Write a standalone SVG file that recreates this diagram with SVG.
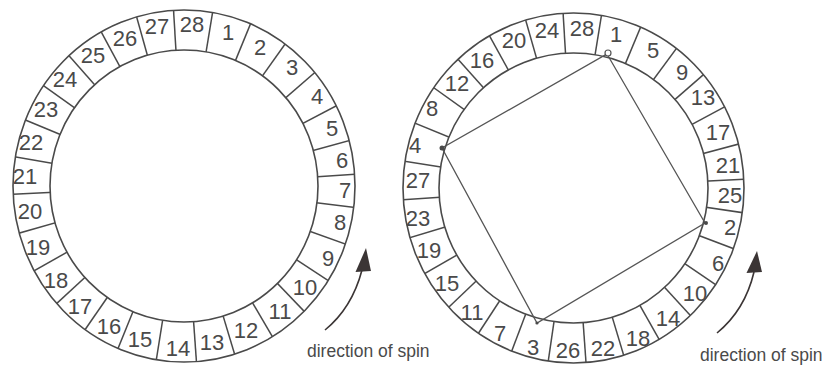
<svg xmlns="http://www.w3.org/2000/svg" width="833" height="365" viewBox="0 0 833 365">
<style>
.ring{fill:none;stroke:#4a4a4a;stroke-width:1.6}
.sp{stroke:#4a4a4a;stroke-width:1.5}
.num{font-family:"Liberation Sans",Arial,sans-serif;font-size:22px;fill:#4a4a4a;text-anchor:middle}
.cap{font-family:"Liberation Sans",Arial,sans-serif;font-size:17.5px;fill:#4a4a4a}
.sq{fill:none;stroke:#555;stroke-width:1.3}
.arr{fill:none;stroke:#3b3535;stroke-width:1.6}
.head{fill:#3b3535}
</style>
<defs>
<clipPath id="clipL"><path clip-rule="evenodd" d="M13,186a171,176 0 1,0 342,0a171,176 0 1,0 -342,0ZM50,186a134,136 0 1,0 268,0a134,136 0 1,0 -268,0Z"/></clipPath>
<clipPath id="clipR"><path clip-rule="evenodd" d="M403,188a170.5,175 0 1,0 341,0a170.5,175 0 1,0 -341,0ZM439,188a134.5,135 0 1,0 269,0a134.5,135 0 1,0 -269,0Z"/></clipPath>
<line id="spoke" x1="0" y1="-115" x2="0" y2="-190"/>
</defs>
<rect width="833" height="365" fill="#fff"/>

<g id="ring-left">
<ellipse class="ring" cx="184" cy="186" rx="171" ry="176"/>
<ellipse class="ring" cx="184" cy="186" rx="134" ry="136"/>
<g clip-path="url(#clipL)"><g class="sp" transform="translate(184,186)">
<use href="#spoke" transform="rotate(9.35)"/><use href="#spoke" transform="rotate(22.3)"/><use href="#spoke" transform="rotate(35.45)"/><use href="#spoke" transform="rotate(49.05)"/>
<use href="#spoke" transform="rotate(62.25)"/><use href="#spoke" transform="rotate(74.65)"/><use href="#spoke" transform="rotate(86.05)"/><use href="#spoke" transform="rotate(97.2)"/>
<use href="#spoke" transform="rotate(109.8)"/><use href="#spoke" transform="rotate(123.25)"/><use href="#spoke" transform="rotate(136.2)"/><use href="#spoke" transform="rotate(149.6)"/>
<use href="#spoke" transform="rotate(163.25)"/><use href="#spoke" transform="rotate(175.95)"/><use href="#spoke" transform="rotate(189.05)"/><use href="#spoke" transform="rotate(202.1)"/>
<use href="#spoke" transform="rotate(214.55)"/><use href="#spoke" transform="rotate(227.3)"/><use href="#spoke" transform="rotate(240.5)"/><use href="#spoke" transform="rotate(254.05)"/>
<use href="#spoke" transform="rotate(267.2)"/><use href="#spoke" transform="rotate(279.8)"/><use href="#spoke" transform="rotate(292.6)"/><use href="#spoke" transform="rotate(305.55)"/>
<use href="#spoke" transform="rotate(318.55)"/><use href="#spoke" transform="rotate(331.75)"/><use href="#spoke" transform="rotate(344.35)"/><use href="#spoke" transform="rotate(356.6)"/>
</g></g>
<g class="num">
<text x="228" y="40">1</text><text x="260" y="55">2</text><text x="292" y="75">3</text><text x="317" y="104">4</text>
<text x="332" y="136">5</text><text x="342" y="168">6</text><text x="345" y="198">7</text><text x="340" y="230">8</text>
<text x="328" y="266">9</text><text x="305" y="295">10</text><text x="280" y="319">11</text><text x="246" y="338">12</text>
<text x="212" y="350">13</text><text x="178" y="356">14</text><text x="140" y="347">15</text><text x="109" y="334">16</text>
<text x="80" y="314">17</text><text x="56" y="288">18</text><text x="38" y="255">19</text><text x="30" y="219">20</text>
<text x="25" y="184">21</text><text x="31" y="150">22</text><text x="46" y="117">23</text><text x="65" y="87">24</text>
<text x="93" y="63">25</text><text x="125" y="46">26</text><text x="157" y="34">27</text><text x="192" y="32">28</text>
</g>
</g>

<g id="ring-right">
<ellipse class="ring" cx="573.5" cy="188" rx="170.5" ry="175"/>
<ellipse class="ring" cx="573.5" cy="188" rx="134.5" ry="135"/>
<g clip-path="url(#clipR)"><g class="sp" transform="translate(573.5,188)">
<use href="#spoke" transform="rotate(9.2)"/><use href="#spoke" transform="rotate(22.65)"/><use href="#spoke" transform="rotate(36.4)"/><use href="#spoke" transform="rotate(48.9)"/>
<use href="#spoke" transform="rotate(61.75)"/><use href="#spoke" transform="rotate(75.1)"/><use href="#spoke" transform="rotate(87.05)"/><use href="#spoke" transform="rotate(98.3)"/>
<use href="#spoke" transform="rotate(110.75)"/><use href="#spoke" transform="rotate(124.2)"/><use href="#spoke" transform="rotate(137.5)"/><use href="#spoke" transform="rotate(150.5)"/>
<use href="#spoke" transform="rotate(163.3)"/><use href="#spoke" transform="rotate(175.9)"/><use href="#spoke" transform="rotate(188.3)"/><use href="#spoke" transform="rotate(200.75)"/>
<use href="#spoke" transform="rotate(213.2)"/><use href="#spoke" transform="rotate(226.3)"/><use href="#spoke" transform="rotate(240.1)"/><use href="#spoke" transform="rotate(253.1)"/>
<use href="#spoke" transform="rotate(266.05)"/><use href="#spoke" transform="rotate(279)"/><use href="#spoke" transform="rotate(292.25)"/><use href="#spoke" transform="rotate(305.65)"/>
<use href="#spoke" transform="rotate(318.1)"/><use href="#spoke" transform="rotate(331.1)"/><use href="#spoke" transform="rotate(344.1)"/><use href="#spoke" transform="rotate(356.6)"/>
</g></g>
<g class="num">
<text x="616" y="42">1</text><text x="653" y="58">5</text><text x="682" y="80">9</text><text x="703" y="105">13</text>
<text x="718" y="140">17</text><text x="728" y="173">21</text><text x="730" y="203">25</text><text x="730" y="235">2</text>
<text x="718" y="271">6</text><text x="695" y="301">10</text><text x="668" y="326">14</text><text x="638" y="346">18</text>
<text x="603" y="356">22</text><text x="568" y="358">26</text><text x="533" y="355">3</text><text x="500" y="341">7</text>
<text x="472" y="320">11</text><text x="447" y="291">15</text><text x="429" y="258">19</text><text x="418" y="226">23</text>
<text x="418" y="188">27</text><text x="415" y="153">4</text><text x="432" y="116">8</text><text x="457" y="91">12</text>
<text x="482" y="68">16</text><text x="514" y="48">20</text><text x="547" y="38">24</text><text x="582" y="36">28</text>
</g>
</g>

<g id="square">
<polygon class="sq" points="607,54 705,223 537,323 442,148"/>
<circle cx="608" cy="53" r="3" fill="#fff" stroke="#555" stroke-width="1.2"/>
<circle cx="442" cy="148" r="2.5" fill="#4a4a4a"/>
<circle cx="706" cy="223" r="2" fill="#4a4a4a"/>
<circle cx="537" cy="323" r="1.6" fill="#4a4a4a"/>
</g>

<g id="connectors">
<path class="arr" d="M325,330 Q352,308 362,270"/>
<polygon class="head" points="366,248 355.5,272 371,271"/>
<path class="arr" d="M717,333 Q745,310 754,272"/>
<polygon class="head" points="757,251 746.5,273 762,272"/>
</g>

<g id="captions">
<text class="cap" x="307" y="357">direction of spin</text>
<text class="cap" x="700" y="361">direction of spin</text>
</g>
</svg>
